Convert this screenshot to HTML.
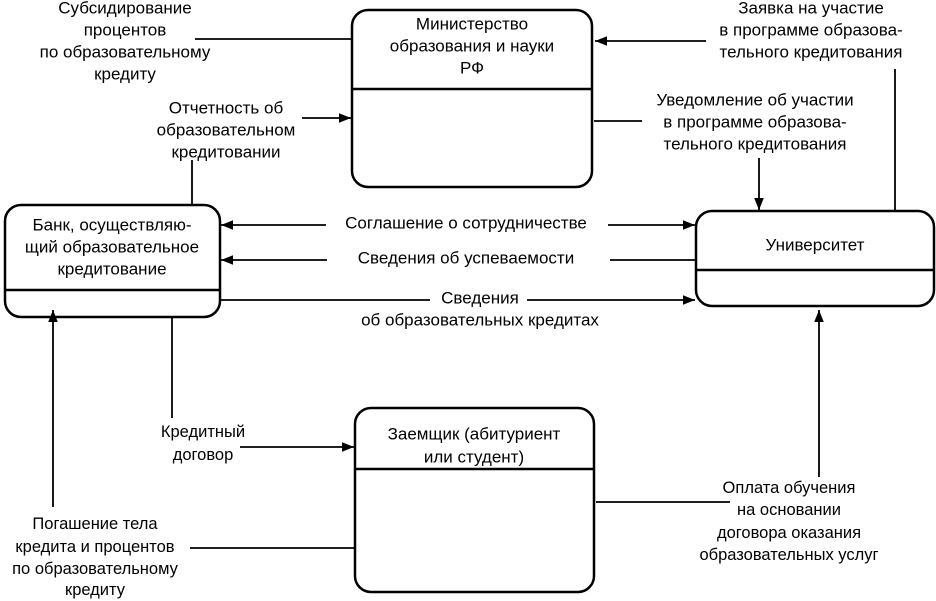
<!DOCTYPE html>
<html><head><meta charset="utf-8"><style>
html,body{margin:0;padding:0;background:#fff}
svg{display:block}
text{font-family:"Liberation Sans",Arial,sans-serif;font-size:17px;fill:#000;text-anchor:middle;dominant-baseline:central}
.c text{font-size:16.5px}
</style></head><body>
<svg width="936" height="601" viewBox="0 0 936 601" xmlns="http://www.w3.org/2000/svg">
<defs>
<marker id="a" viewBox="0 0 10 10" refX="10" refY="5" markerWidth="24" markerHeight="12" markerUnits="userSpaceOnUse" orient="auto">
<path d="M0,1 L10,5 L0,9 Z" fill="#000"/></marker>
</defs>
<g fill="none" stroke="#000" stroke-width="2.5">
<rect x="352" y="10" width="240" height="177" rx="16"/>
<line x1="352" y1="89" x2="592" y2="89"/>
<rect x="5" y="205" width="215" height="112" rx="16"/>
<line x1="5" y1="290" x2="220" y2="290"/>
<rect x="696" y="211" width="238" height="95" rx="16"/>
<line x1="696" y1="270" x2="934" y2="270"/>
<rect x="355" y="408" width="239" height="184" rx="16"/>
<line x1="355" y1="469" x2="594" y2="469"/>
</g>
<g stroke="#000" stroke-width="1.8" fill="none">
<line x1="195" y1="39" x2="351" y2="39"/>
<line x1="302" y1="118" x2="351" y2="118" marker-end="url(#a)"/>
<line x1="192" y1="160" x2="192" y2="204"/>
<line x1="706" y1="41" x2="595" y2="41" marker-end="url(#a)"/>
<line x1="895" y1="69" x2="895" y2="210"/>
<line x1="594" y1="121" x2="642" y2="121"/>
<line x1="759" y1="158" x2="759" y2="210" marker-end="url(#a)"/>
<line x1="326" y1="225" x2="221" y2="225" marker-end="url(#a)"/>
<line x1="608" y1="225" x2="695" y2="225" marker-end="url(#a)"/>
<line x1="327" y1="260" x2="221" y2="260" marker-end="url(#a)"/>
<line x1="610" y1="260" x2="696" y2="260"/>
<line x1="220" y1="300" x2="430" y2="300"/>
<line x1="527" y1="300" x2="695" y2="300" marker-end="url(#a)"/>
<line x1="53" y1="507" x2="53" y2="310" marker-end="url(#a)"/>
<line x1="172" y1="317" x2="172" y2="418"/>
<line x1="240" y1="447" x2="354" y2="447" marker-end="url(#a)"/>
<line x1="190" y1="548" x2="355" y2="548"/>
<line x1="596" y1="502" x2="730" y2="502"/>
<line x1="819" y1="477" x2="819" y2="310" marker-end="url(#a)"/>
</g>
<text x="472" y="24">Министерство</text>
<text x="472" y="46">образования и науки</text>
<text x="472" y="68">РФ</text>
<text x="112" y="225">Банк, осуществляю-</text>
<text x="112" y="247">щий образовательное</text>
<text x="112" y="269">кредитование</text>
<text x="815" y="245">Университет</text>
<text x="474" y="434">Заемщик (абитуриент</text>
<text x="474" y="457">или студент)</text>
<text x="125" y="8">Субсидирование</text>
<text x="125" y="30">процентов</text>
<text x="125" y="52">по образовательному</text>
<text x="125" y="74">кредиту</text>
<text x="226" y="108">Отчетность об</text>
<text x="226" y="130">образовательном</text>
<text x="226" y="152">кредитовании</text>
<text x="811" y="8">Заявка на участие</text>
<text x="811" y="30">в программе образова-</text>
<text x="811" y="52">тельного кредитования</text>
<text x="755" y="100">Уведомление об участии</text>
<text x="755" y="122">в программе образова-</text>
<text x="755" y="144">тельного кредитования</text>
<text x="466" y="223">Соглашение о сотрудничестве</text>
<text x="466" y="258">Сведения об успеваемости</text>
<text x="480" y="298">Сведения</text>
<text x="480" y="320">об образовательных кредитах</text>
<g class="c">
<text x="203" y="432">Кредитный</text>
<text x="203" y="455">договор</text>
<text x="95" y="524">Погашение тела</text>
<text x="95" y="547">кредита и процентов</text>
<text x="95" y="569">по образовательному</text>
<text x="95" y="590">кредиту</text>
<text x="789" y="488">Оплата обучения</text>
<text x="789" y="510">на основании</text>
<text x="789" y="533">договора оказания</text>
<text x="789" y="555">образовательных услуг</text>
</g>
</svg>
</body></html>
